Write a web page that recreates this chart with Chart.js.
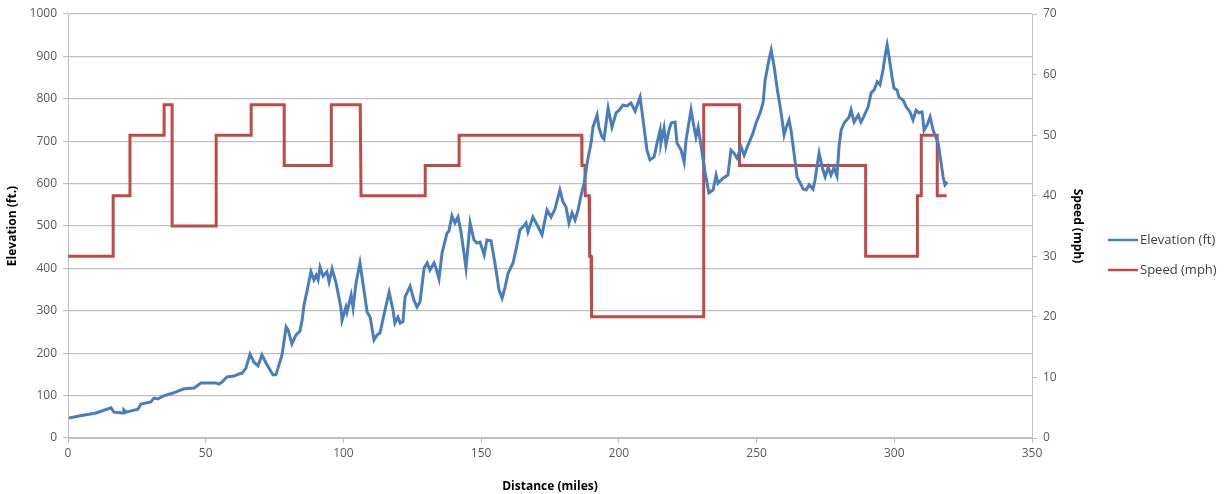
<!DOCTYPE html>
<html>
<head>
<meta charset="utf-8">
<script src="https://cdn.jsdelivr.net/npm/chart.js@4"></script>
<style>
html,body{margin:0;padding:0;background:#fff;}
#wrap{width:1226px;height:494px;position:relative;}
</style>
</head>
<body>
<div id="wrap"><canvas id="c" width="1226" height="494"></canvas></div>
<script>
const elevMiles = [0.4,4.0,10.2,15.6,16.7,20.0,20.3,21.1,25.4,26.5,30.1,31.2,32.7,34.5,38.1,42.1,45.8,48.3,50.8,53.7,
54.8,55.9,57.7,60.3,62.1,63.2,64.6,66.1,67.5,69.0,70.4,72.3,74.4,75.5,77.7,79.2,79.9,81.3,82.8,84.2,85.0,85.7,86.8,88.2,89.3,90.1,90.8,91.5,92.6,94.0,94.8,95.9,97.3,99.1,99.5,100.9,101.3,102.8,103.5,104.6,106.0,
108.6,109.7,111.1,112.2,113.3,114.7,116.6,118.0,118.7,119.8,120.6,121.6,122.4,124.2,125.6,126.7,127.8,129.3,130.4,131.4,132.9,133.6,134.7,135.8,137.6,138.3,139.4,140.5,141.6,142.7,144.5,146.0,147.4,148.5,149.6,151.1,152.1,153.6,155.0,156.5,157.6,158.7,159.8,161.2,
161.6,163.0,164.1,165.2,166.3,167.0,168.8,170.7,172.1,173.9,175.4,176.8,178.6,179.7,180.8,181.9,183.0,184.1,185.2,186.3,187.4,188.5,189.9,190.6,192.1,192.8,193.9,194.6,196.1,197.5,199.0,200.1,201.5,203.0,204.4,205.9,207.7,208.8,210.2,211.3,212.8,213.9,
215.0,215.3,216.4,217.1,218.2,219.0,220.4,221.1,222.6,223.7,224.4,226.2,227.3,228.0,228.8,229.8,231.3,232.7,234.2,235.3,236.0,237.8,239.6,240.7,241.8,242.9,244.4,245.5,246.6,248.7,249.8,251.3,252.4,253.1,254.5,255.3,256.4,257.4,258.9,260.0,260.7,261.8,262.5,263.6,264.7,266.2,266.9,
268.0,269.1,270.5,271.2,272.7,274.1,274.9,276.0,277.0,278.1,279.2,280.0,280.7,281.8,283.6,284.3,285.4,286.9,287.9,289.0,290.5,291.6,292.7,293.8,294.8,295.9,296.7,297.4,298.1,299.2,299.9,301.0,301.7,303.2,304.3,305.7,306.8,307.9,309.0,310.1,310.8,311.9,313.0,314.1,315.9,317.0,317.7,318.4,319.2];
const elevFeet = [47,52,59,71,61,59,66,61,68,80,85,94,92,99,106,116,118,130,130,130,
127,132,144,146,151,153,165,198,179,170,196,172,149,149,196,262,255,222,243,252,278,314,347,392,373,384,373,403,382,392,368,399,366,307,278,309,297,337,307,366,413,
297,285,231,243,248,290,344,302,271,285,271,274,333,358,325,309,321,401,413,396,413,401,375,436,483,488,524,507,521,486,401,507,467,460,462,432,467,465,413,349,330,356,389,408,
413,455,491,498,507,486,521,498,479,538,521,540,585,557,545,507,531,514,538,573,601,649,696,733,762,731,710,705,778,733,767,773,785,783,790,771,804,750,679,656,663,696,
726,696,731,691,726,743,745,696,679,651,703,774,733,710,733,691,627,578,585,620,601,613,620,679,672,660,686,667,686,719,743,767,792,844,892,915,875,828,767,715,731,750,726,672,616,597,587,
585,597,587,608,672,632,616,639,620,637,618,691,726,743,757,774,745,762,745,759,781,814,821,840,833,868,903,927,899,851,825,821,804,797,781,769,750,773,767,769,726,738,757,726,696,649,616,597,604];

const speedMiles = [0,16.4,16.4,22.5,22.5,34.9,34.9,37.8,37.8,53.8,53.8,66.5,66.5,78.5,78.5,95.6,95.6,106.1,106.4,129.7,129.7,142.0,142.0,186.5,186.6,187.7,187.8,189.2,189.4,189.9,190.1,230.8,230.8,243.8,243.8,289.6,289.6,308.4,308.4,309.8,309.8,315.6,315.6,319.0];
const speedMph   = [30,30,40,40,50,50,55,55,35,35,50,50,55,55,45,45,55,55,40,40,45,45,50,50,45,45,40,40,30,30,20,20,55,55,45,45,30,30,40,40,50,50,40,40];

const xTicks = [0,50,100,150,200,250,300,350];
const seriesNames = ['Elevation (ft)','Speed (mph)'];
const seriesColors = ['#4a7ebb','#be4b48'];

const legendPlugin = {
  id:'sideLegend',
  afterDraw(chart){
    const ctx = chart.ctx;
    ctx.save();
    chart.data.datasets.forEach((ds,i)=>{
      const y = 240 + i*30;
      ctx.strokeStyle = ds.borderColor;
      ctx.lineWidth = 2.5;
      ctx.beginPath(); ctx.moveTo(1108,y); ctx.lineTo(1138,y); ctx.stroke();
      ctx.fillStyle = '#404040';
      ctx.font = '13px "Open Sans", sans-serif';
      ctx.textAlign = 'left'; ctx.textBaseline = 'middle';
      ctx.fillText(ds.label, 1140, y);
    });
    ctx.restore();
  }
};

const tickFont = {family:'"Open Sans", sans-serif', size:12};
const titleFont = {family:'"Open Sans", sans-serif', size:12, weight:'bold'};

new Chart(document.getElementById('c'), {
  type:'line',
  data:{
    datasets:[
      {label:seriesNames[0], data: elevMiles.map((x,i)=>({x:x,y:elevFeet[i]})), borderColor:seriesColors[0], borderWidth:3, pointRadius:0, tension:0, yAxisID:'y'},
      {label:seriesNames[1], data: speedMiles.map((x,i)=>({x:x,y:speedMph[i]})), borderColor:seriesColors[1], borderWidth:3, pointRadius:0, tension:0, yAxisID:'y1'}
    ]
  },
  options:{
    responsive:false, animation:false, devicePixelRatio:1,
    layout:{padding:{top:14,right:139,left:0,bottom:0}},
    plugins:{legend:{display:false}, tooltip:{enabled:false}},
    scales:{
      x:{type:'linear', min:0, max:350,
        afterBuildTicks(s){ s.ticks = xTicks.map(v=>({value:v})); },
        afterFit(s){ s.height = 56; },
        grid:{drawOnChartArea:false, drawTicks:true, tickLength:5, color:'#bfbfbf', lineWidth:1},
        border:{color:'#bfbfbf', width:1},
        ticks:{color:'#595959', font:tickFont, padding:3, maxRotation:0, callback:v=>String(v)},
        title:{display:true, text:'Distance (miles)', color:'#000', font:titleFont, padding:{top:2,bottom:0}}
      },
      y:{position:'left', min:0, max:1000,
        afterFit(s){ s.width = 68; },
        ticks:{stepSize:100, color:'#595959', font:tickFont, padding:6, callback:v=>String(v)},
        grid:{color:'#c0c0c0', lineWidth:1.2, tickLength:5, drawTicks:true},
        border:{color:'#bfbfbf', width:1},
        title:{display:true, text:'Elevation (ft.)', color:'#000', font:titleFont, padding:{top:5,bottom:2}}
      },
      y1:{position:'right', min:0, max:70,
        afterFit(s){ s.width = 55; },
        ticks:{stepSize:10, color:'#595959', font:tickFont, padding:6, callback:v=>String(v)},
        grid:{drawOnChartArea:false, tickLength:5, drawTicks:true, color:'#bfbfbf'},
        border:{color:'#bfbfbf', width:1},
        title:{display:true, text:'Speed (mph)', color:'#000', font:titleFont, padding:{top:2,bottom:0}}
      }
    }
  },
  plugins:[legendPlugin]
});
</script>
</body>
</html>
